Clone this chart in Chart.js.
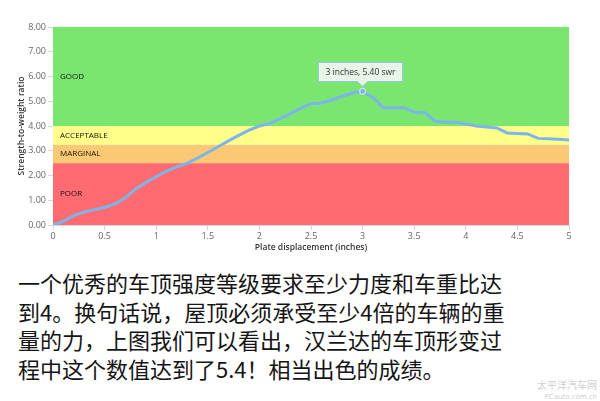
<!DOCTYPE html>
<html>
<head>
<meta charset="utf-8">
<script src="https://cdn.jsdelivr.net/npm/chart.js@4.4.1/dist/chart.umd.min.js"></script>
<style>
  html, body { margin: 0; padding: 0; background: #fff; }
  #wrap { position: relative; width: 600px; height: 401px; overflow: hidden; }
  #chartBox { position: absolute; left: 0; top: 0; width: 600px; height: 257px; }
  #story {
    position: absolute; left: 18px; top: 268px;
    font-family: "Noto Sans CJK SC", sans-serif; font-size: 22px;
    line-height: 28.7px; color: #151515; white-space: nowrap;
  }
  #mark {
    position: absolute; right: 3px; top: 380px; text-align: right;
    font-family: "Noto Sans CJK SC", sans-serif; color: #cfcfcf;
    font-size: 10px; line-height: 10px;
  }
  #mark small { font-family: "DejaVu Sans", sans-serif; font-size: 7px; }
</style>
</head>
<body>
<div id="wrap">
  <div id="chartBox"><canvas id="roofChart" width="600" height="257"></canvas></div>
  <div id="story"></div>
  <div id="mark">太平洋汽车网<br><small>PCauto.com.cn</small></div>
</div>
<script>
// déplacement de la plaque (pouces) et rapport force / poids
const displacement = [0, 0.1, 0.2, 0.3, 0.4, 0.5, 0.6, 0.7, 0.8, 0.9,
  1.0, 1.1, 1.2, 1.3, 1.4, 1.5, 1.6, 1.7, 1.8, 1.9,
  2.0, 2.1, 2.2, 2.3, 2.4, 2.5, 2.6, 2.7, 2.8, 2.9,
  3.0, 3.1, 3.2, 3.3, 3.4, 3.5, 3.6, 3.7, 3.8, 3.9,
  4.0, 4.1, 4.2, 4.3, 4.4, 4.5, 4.6, 4.7, 4.8, 4.9, 5.0];
const swr = [0, 0.15, 0.38, 0.52, 0.62, 0.71, 0.85, 1.1, 1.45, 1.72,
  1.95, 2.18, 2.35, 2.5, 2.7, 2.93, 3.16, 3.4, 3.62, 3.83,
  4.0, 4.1, 4.3, 4.5, 4.72, 4.9, 4.93, 5.05, 5.2, 5.33,
  5.40, 5.15, 4.74, 4.74, 4.74, 4.56, 4.55, 4.2, 4.15, 4.15,
  4.08, 4.0, 3.96, 3.92, 3.72, 3.7, 3.68, 3.5, 3.48, 3.46, 3.43];

// zones de classement
const bandNames = ['POOR', 'MARGINAL', 'ACCEPTABLE', 'GOOD'];
const bandFrom  = [0, 2.5, 3.25, 4];
const bandTo    = [2.5, 3.25, 4, 8];
const bandColors = ['#ff6b70', '#fbc974', '#ffff8a', '#7ae670'];

const yTicks = [0, 0.5, 1, 1.5, 2, 2.5, 3, 3.5, 4, 4.5, 5, 5.5, 6, 6.5, 7, 7.5, 8];
const xTicks = [0, 0.5, 1, 1.5, 2, 2.5, 3, 3.5, 4, 4.5, 5];

const storyLines = [
  '一个优秀的车顶强度等级要求至少力度和车重比达',
  '到4。换句话说，屋顶必须承受至少4倍的车辆的重',
  '量的力，上图我们可以看出，汉兰达的车顶形变过',
  '程中这个数值达到了5.4！相当出色的成绩。'
];

const peakIdx = swr.indexOf(Math.max(...swr));
const tipText = `${displacement[peakIdx]} inches, ${swr[peakIdx].toFixed(2)} swr`;

document.getElementById('story').innerHTML = storyLines.map(l => `<div>${l}</div>`).join('');

const tickFont = { family: 'Open Sans', size: 9 };
const axisGray = '#ccd6eb';

// Dessine les bandes de couleur derrière la courbe
const bandsPlugin = {
  id: 'bands',
  beforeDatasetsDraw(chart) {
    const { ctx, chartArea: a, scales: { y } } = chart;
    ctx.save();
    bandNames.forEach((name, i) => {
      const top = y.getPixelForValue(bandTo[i]);
      const bot = y.getPixelForValue(bandFrom[i]);
      ctx.fillStyle = bandColors[i];
      ctx.fillRect(a.left, top, a.right - a.left, bot - top);
    });
    ctx.fillStyle = '#111';
    ctx.font = '8px "Open Sans"';
    ctx.textBaseline = 'middle';
    bandNames.forEach((name, i) => {
      const mid = y.getPixelForValue((bandFrom[i] + bandTo[i]) / 2);
      ctx.fillText(name, a.left + 7, mid);
    });
    ctx.restore();
  }
};

// Infobulle fixe sur le maximum
const tipPlugin = {
  id: 'peakTip',
  afterDatasetsDraw(chart) {
    const { ctx, scales: { x, y } } = chart;
    const px = x.getPixelForValue(displacement[peakIdx]);
    const py = y.getPixelForValue(swr[peakIdx]);
    ctx.save();
    ctx.font = '8.5px "Open Sans"';
    const w = ctx.measureText(tipText).width + 14;
    const h = 19;
    const bx = Math.round(px - 3 - w / 2) + 0.5;
    const by = Math.round(py - 10 - h) + 0.5;
    ctx.beginPath();
    ctx.moveTo(bx, by);
    ctx.lineTo(bx + w, by);
    ctx.lineTo(bx + w, by + h);
    ctx.lineTo(px + 5, by + h);
    ctx.lineTo(px, by + h + 5);
    ctx.lineTo(px - 5, by + h);
    ctx.lineTo(bx, by + h);
    ctx.closePath();
    ctx.fillStyle = 'rgba(247,247,247,0.88)';
    ctx.fill();
    ctx.strokeStyle = '#9cc4e8';
    ctx.lineWidth = 1;
    ctx.stroke();
    ctx.fillStyle = '#333';
    ctx.textAlign = 'center';
    ctx.textBaseline = 'middle';
    ctx.fillText(tipText, bx + w / 2, by + h / 2 + 0.5);
    ctx.restore();
  }
};

new Chart(document.getElementById('roofChart').getContext('2d'), {
  type: 'line',
  data: {
    datasets: [{
      data: displacement.map((d, i) => ({ x: d, y: swr[i] })),
      borderColor: '#7cb5ec',
      borderWidth: 3,
      tension: 0,
      pointRadius: c => c.dataIndex === peakIdx ? 3 : 0,
      pointBackgroundColor: '#7cb5ec',
      pointBorderColor: '#e8f2fb',
      pointBorderWidth: 1,
      fill: false
    }]
  },
  options: {
    responsive: false,
    animation: false,
    layout: { padding: { top: 27, right: 31, left: 0, bottom: 0 } },
    plugins: { legend: { display: false }, tooltip: { enabled: false } },
    scales: {
      x: {
        type: 'linear', min: 0, max: 5,
        afterBuildTicks: s => { s.ticks = xTicks.map(v => ({ value: v })); },
        afterFit: s => { s.height = 32; },
        grid: { drawOnChartArea: false, color: axisGray, tickLength: 5 },
        border: { color: axisGray },
        ticks: { color: '#666', font: tickFont, padding: 1, maxRotation: 0, callback: v => String(v) },
        title: { display: true, text: 'Plate displacement (inches)', color: '#333',
                 font: { family: 'Open Sans', size: 8.5, weight: '600' }, padding: { top: 0, bottom: 4 } }
      },
      y: {
        min: 0, max: 8,
        afterBuildTicks: s => { s.ticks = yTicks.map(v => ({ value: v })); },
        afterFit: s => { s.width = 53; },
        grid: { drawOnChartArea: false, color: axisGray, tickLength: 5 },
        border: { color: axisGray },
        ticks: { color: '#666', font: tickFont, padding: 2, callback: v => v.toFixed(2) },
        title: { display: true, text: 'Strength-to-weight ratio', color: '#333',
                 font: { family: 'Open Sans', size: 8.5, weight: '600' }, padding: { top: 16, bottom: 0 } }
      }
    }
  },
  plugins: [bandsPlugin, tipPlugin]
});
</script>
</body>
</html>
